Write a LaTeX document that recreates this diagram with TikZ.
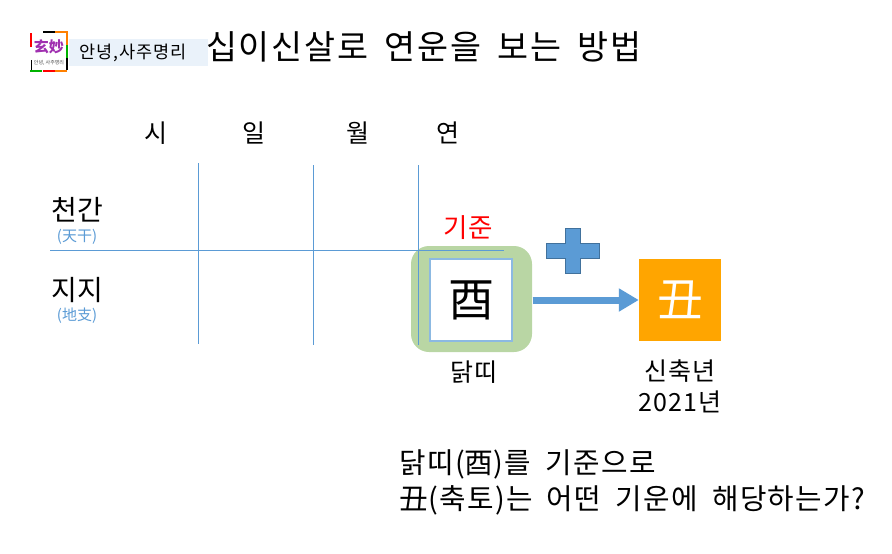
\documentclass[tikz,border=0pt]{standalone}
\usepackage{fontspec}
\setmainfont{Noto Sans CJK KR}
\newfontfamily\widefont[LetterSpace=5,WordSpace=1.8]{Noto Sans CJK KR}
\newfontfamily\hanjafont{Noto Sans CJK TC}
\usetikzlibrary{arrows.meta}
\definecolor{lineblue}{HTML}{5B9BD5}
\definecolor{plusedge}{HTML}{41719C}
\definecolor{boxgreen}{HTML}{B9D6A4}
\definecolor{boxorange}{HTML}{FFA500}
\definecolor{tagblue}{HTML}{EAF2FA}
\definecolor{logopurple}{HTML}{A030B0}
\newcommand{\fs}[1]{\fontsize{#1}{#1}\selectfont}
\begin{document}
\begin{tikzpicture}[x=1pt,y=-1pt]
	\tikzstyle{gridline}=[draw=lineblue,line width=0.8pt]
	\tikzstyle{txt}=[inner sep=0pt,text=black]
	\tikzstyle{head}=[txt,font=\fs{25}]
	\tikzstyle{rowname}=[txt,font=\fs{28}]
	\tikzstyle{rowsub}=[txt,text=lineblue,font=\fs{15}]
	\tikzstyle{small}=[txt,font=\widefont\fs{25}]
	\tikzstyle{big}=[txt,font=\widefont\fs{28.8},anchor=west]
	\tikzstyle{ganji}=[inner sep=0pt,minimum size=82pt,font=\hanjafont\fs{46}]
	\useasboundingbox (0,0) rectangle (892,554);
	% logo
	\draw[black,line width=1.5pt] (43,32) -- (55,32);
	\draw[orange,line width=1.5pt] (55,32) -- (67,32) -- (67,45);
	\draw[green!70!black,line width=1.5pt] (67,45) -- (67,58);
	\draw[black,line width=1.5pt] (67,58) -- (67,70);
	\draw[orange,line width=1.5pt] (67,71) -- (55,71);
	\draw[red,line width=1.5pt] (55,71) -- (43,71);
	\draw[green!70!black,line width=1.5pt] (42,71) -- (30,71);
	\draw[black,line width=1pt] (31,70) -- (31,60);
	\draw[red,line width=1.5pt] (31,47) -- (31,33);
	\node[txt,text=logopurple,font=\hanjafont\bfseries\fs{15}] (logo) at (49,47){玄妙};
	\node[txt,text=black!70,font=\fs{5}] (logosub) at (49,63){안녕, 사주명리};
	\fill[tagblue] (69,39) rectangle (208,66);
	\node[txt,font=\widefont\fs{17.5}] (tag) at (133,53){안녕,사주명리};
	\node[txt,font=\widefont\fs{33.7}] (title) at (424,47){십이신살로 연운을 보는 방법};
	% table
	\node[head] (si) at (156,133){시};
	\node[head] (il) at (254,133){일};
	\node[head] (wol) at (358,133){월};
	\node[head] (yeon) at (448,133){연};
	\node[rowname] (cheon) at (77,210){천간};
	\node[rowsub] (cheonsub) at (77,237){(天干)};
	\node[rowname] (ji) at (77,290){지지};
	\node[rowsub] (jisub) at (77,316){(地支)};
	\fill[boxgreen,rounded corners=18pt] (411,246) rectangle (532,352);
	\coordinate (h1) at (50,250);
	\coordinate (h2) at (504,250);
	\coordinate (v1a) at (198,163);
	\coordinate (v1b) at (198,344);
	\coordinate (v2a) at (313,165);
	\coordinate (v2b) at (313,345);
	\coordinate (v3a) at (418,165);
	\coordinate (v3b) at (418,345);
	\draw[gridline] (h1) -- (h2);
	\draw[gridline] (v1a) -- (v1b);
	\draw[gridline] (v2a) -- (v2b);
	\draw[gridline] (v3a) -- (v3b);
	% boxes
	\node[txt,text=red,font=\fs{26.5}] (gijun) at (468,228){기준};
	\node[ganji,fill=white,draw=lineblue!70,line width=1.2pt,text=black] (A) at (471,300){酉};
	\node[ganji,fill=boxorange,text=white] (B) at (680,300){丑};
	\draw[lineblue,line width=7pt,-{Triangle[length=20pt,width=22pt]}] ([xshift=20pt]A.east) -- (B.west);
	\fill[lineblue,draw=plusedge,line width=0.8pt] (565,228) -- (580,228) -- (580,243) -- (599,243) -- (599,258) -- (580,258) -- (580,273) -- (565,273) -- (565,258) -- (546,258) -- (546,243) -- (565,243) -- cycle;
	% labels
	\node[small] (dak) at (474,372){닭띠};
	\node[small] (sin) at (680,371){신축년};
	\node[small] (year) at (680,402){2021년};
	\node[big] (line1) at (399,464){닭띠({\hanjafont 酉})를 기준으로};
	\node[big] (line2) at (399,500){{\hanjafont 丑}(축토)는 어떤 기운에 해당하는가?};
\end{tikzpicture}
\end{document}
